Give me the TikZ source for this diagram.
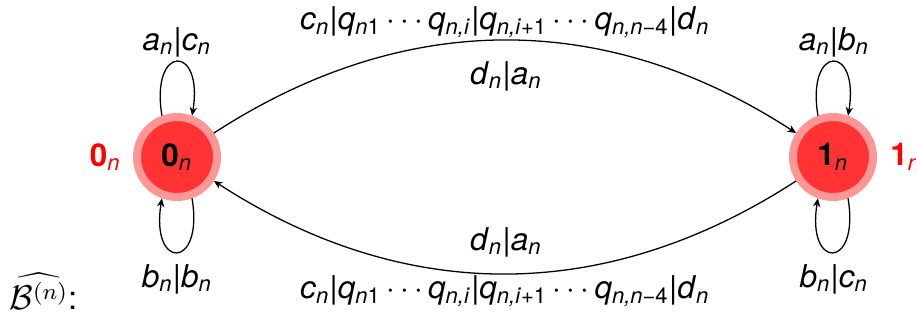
\documentclass[tikz,border=0pt]{standalone}
\usepackage{fontspec}
\setmainfont{TeX Gyre Heros}
\usetikzlibrary{arrows.meta}
\definecolor{ringc}{RGB}{255,150,150}
\definecolor{fillc}{RGB}{255,51,51}
\newcommand\vr[2]{\textit{#1}\textsubscript{\textit{#2}}}
\newcommand\longlab{\vr{c}{n}|\textit{q}\textsubscript{\textit{n}1}\,$\cdots$\,\textit{q}\textsubscript{\textit{n,i}}|\textit{q}\textsubscript{\textit{n,i}+1}\,$\cdots$\,\textit{q}\textsubscript{\textit{n,n}−4}|\vr{d}{n}}
\tikzset{
  state/.style={circle,fill=fillc,draw=ringc,line width=2.8pt,minimum size=28pt,inner sep=0pt,font=\fontsize{11}{13}\selectfont},
  lab/.style={font=\fontsize{11}{13}\selectfont,inner sep=0pt},
  redlab/.style={font=\fontsize{11}{13}\selectfont,text=red,inner sep=0pt},
  arr/.style={line width=0.45pt,-{Stealth[length=3pt,width=2.6pt,inset=1pt]}}
}
\begin{document}
\begin{tikzpicture}[x=0.35pt,y=0.35pt]
\useasboundingbox (0,0) rectangle (916,324);
\node[state] (n0) at (177,167) {\textbf{0}\textsubscript{\textit{n}}};
\node[state] (n1) at (833,167) {\textbf{1}\textsubscript{\textit{n}}};
\node[redlab,anchor=east] (r0) at ([xshift=-4pt]n0.west) {\textbf{0}\textsubscript{\textit{n}}};
\node[redlab,anchor=west] (r1) at ([xshift=4.5pt]n1.east) {\textbf{1}\textsubscript{\textit{n}}};
% loops
\draw[arr] (n0.110) .. controls +(-12,72) and +(12,72) .. (n0.70);
\draw[arr] (n0.-70) .. controls +(12,-72) and +(-12,-72) .. (n0.-110);
\draw[arr] (n1.110) .. controls +(-12,72) and +(12,72) .. (n1.70);
\draw[arr] (n1.-70) .. controls +(12,-72) and +(-12,-72) .. (n1.-110);
\node[lab] (l0t) at (177,282) {\vr{a}{n}|\vr{c}{n}};
\node[lab] (l0b) at (177,45) {\vr{b}{n}|\vr{b}{n}};
\node[lab] (l1t) at (834,282) {\vr{a}{n}|\vr{b}{n}};
\node[lab] (l1b) at (834,45) {\vr{b}{n}|\vr{c}{n}};
% arcs
\draw[arr] (n0) to[bend left=33] (n1);
\draw[arr] (n1) to[bend left=33] (n0);
\node[lab] (t1) at (505,302) {\longlab};
\node[lab] (t2) at (506,248) {\vr{d}{n}|\vr{a}{n}};
\node[lab] (b2) at (506,82) {\vr{d}{n}|\vr{a}{n}};
\node[lab] (b1) at (505,33) {\longlab};
\node[lab,anchor=base west,font=\fontsize{11.5}{13}\selectfont] (bn) at (9,15) {$\widehat{\mathcal{B}^{(n)}}$:};
\end{tikzpicture}
\end{document}
